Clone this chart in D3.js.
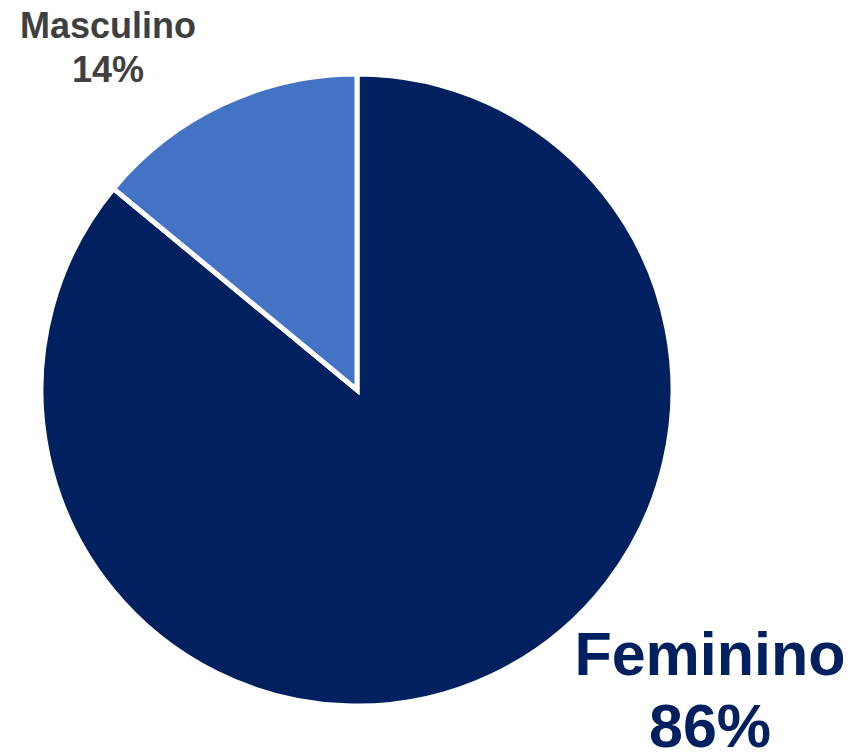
<!DOCTYPE html>
<html>
<head>
<meta charset="utf-8">
<script src="https://cdn.jsdelivr.net/npm/d3@7.9.0/dist/d3.min.js"></script>
<style>
  html, body { margin: 0; padding: 0; background: #fff; }
  svg { display: block; }
  text { font-family: "Liberation Sans", Arial, sans-serif; font-weight: bold; }
</style>
</head>
<body>
<svg id="chart" width="853" height="754"></svg>
<script>
const categories = ['Feminino', 'Masculino'];
const values = [86, 14];
const colors = ['#002060', '#4472C4'];
const labelColors = ['#002060', '#404040'];

const width = 853, height = 754;
const cx = 357, cy = 390, radius = 316;

const svg = d3.select('#chart');

const data = categories.map((c, i) => ({ name: c, value: values[i] }));

const pie = d3.pie().sort(null).value((d) => d.value);
const arc = d3.arc().innerRadius(0).outerRadius(radius);
const arcs = pie(data);

const g = svg.append('g').attr('transform', `translate(${cx},${cy})`);

g.selectAll('path')
  .data(arcs)
  .join('path')
  .attr('d', arc)
  .attr('fill', (d, i) => colors[i])
  .attr('stroke', '#fff')
  .attr('stroke-width', 5)
  .attr('stroke-linejoin', 'miter');

// labels, placed outside the pie like the original
const labelPos = [
  { x: 710, y: 675, size: 61, gap: 72 },
  { x: 108, y: 38, size: 36, gap: 44 },
];

arcs.forEach((d, i) => {
  const p = labelPos[i];
  const t = svg.append('text')
    .attr('x', p.x)
    .attr('y', p.y)
    .attr('text-anchor', 'middle')
    .attr('fill', labelColors[i])
    .style('font-size', p.size + 'px');
  t.append('tspan').attr('x', p.x).text(d.data.name);
  t.append('tspan').attr('x', p.x).attr('dy', p.gap).text(`${d.data.value}%`);
});
</script>
</body>
</html>
